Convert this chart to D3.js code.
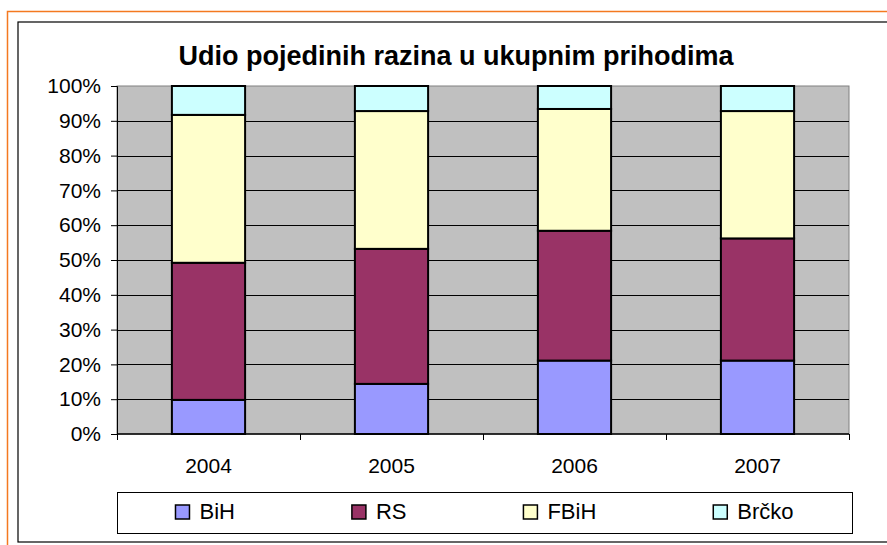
<!DOCTYPE html>
<html>
<head>
<meta charset="utf-8">
<script src="https://cdn.jsdelivr.net/npm/d3@7"></script>
<style>
  body { margin: 0; background: #fff; }
  svg { display: block; font-family: "Liberation Sans", Arial, sans-serif; }
</style>
</head>
<body>
<svg id="chart" width="887" height="545"></svg>
<script>
// Udio pojedinih razina u ukupnim prihodima (% share)
const years = ['2004', '2005', '2006', '2007'];
const seriesNames = ['BiH', 'RS', 'FBiH', 'Brčko'];
const bih   = [9.8, 14.4, 21.1, 21.1];
const rs    = [39.4, 38.8, 37.3, 35.1];
const fbih  = [42.5, 39.6, 35.0, 36.6];
const brcko = [8.3, 7.2, 6.6, 7.2];
const yTicks = [0, 0.1, 0.2, 0.3, 0.4, 0.5, 0.6, 0.7, 0.8, 0.9, 1];
const colors = ['#9999FF', '#993366', '#FFFFCC', '#CCFFFF'];

const svg = d3.select('#chart');
const plot = { left: 117, right: 849, top: 86, bottom: 434 };

// outer orange border and chart frame
svg.append('rect').attr('x', 7.5).attr('y', 11.5).attr('width', 900).attr('height', 560)
    .attr('fill', 'none').attr('stroke', '#F47920').attr('stroke-width', 1.5);
svg.append('rect').attr('x', 18).attr('y', 22).attr('width', 900).attr('height', 520)
    .attr('fill', '#fff').attr('stroke', '#000').attr('stroke-width', 1.2);

svg.append('text')
    .attr('x', 456).attr('y', 65)
    .attr('text-anchor', 'middle')
    .attr('font-weight', 'bold')
    .attr('font-size', 27)
    .text('Udio pojedinih razina u ukupnim prihodima');

const rows = years.map((year, i) => ({
    year, BiH: bih[i], RS: rs[i], FBiH: fbih[i], 'Brčko': brcko[i]
}));
const stacked = d3.stack().keys(seriesNames).offset(d3.stackOffsetExpand)(rows);

const x = d3.scaleBand().domain(years).range([plot.left, plot.right])
    .paddingInner(0.6).paddingOuter(0.3);
const y = d3.scaleLinear().domain([0, 1]).range([plot.bottom, plot.top]);

// plot area
svg.append('rect')
    .attr('x', plot.left).attr('y', plot.top)
    .attr('width', plot.right - plot.left).attr('height', plot.bottom - plot.top)
    .attr('fill', '#C0C0C0').attr('stroke', '#808080').attr('stroke-width', 1);

svg.append('g').selectAll('line')
    .data(yTicks.slice(1, -1))
    .join('line')
    .attr('x1', plot.left).attr('x2', plot.right)
    .attr('y1', d => Math.round(y(d)) + 0.5).attr('y2', d => Math.round(y(d)) + 0.5)
    .attr('stroke', '#000').attr('stroke-width', 1);

// bars
svg.append('g').selectAll('g')
    .data(stacked)
    .join('g')
    .attr('fill', (d, i) => colors[i])
    .selectAll('rect')
    .data(d => d)
    .join('rect')
    .attr('x', d => x(d.data.year))
    .attr('width', x.bandwidth())
    .attr('y', d => y(d[1]))
    .attr('height', d => y(d[0]) - y(d[1]))
    .attr('stroke', '#000').attr('stroke-width', 2);

// y axis
const yAxis = svg.append('g')
    .attr('transform', `translate(${plot.left},0)`)
    .call(d3.axisLeft(y).tickValues(yTicks).tickFormat(d3.format('.0%')).tickSize(6).tickPadding(10));
yAxis.attr('font-family', null).attr('font-size', null);
yAxis.select('.domain').attr('stroke', '#000');
yAxis.selectAll('text').attr('font-size', 21).attr('fill', '#000');

// x axis: ticks at category boundaries
const step = x.step();
const boundaries = d3.range(years.length + 1).map(i => plot.left + i * step);
svg.append('line')
    .attr('x1', plot.left).attr('x2', plot.right)
    .attr('y1', plot.bottom).attr('y2', plot.bottom)
    .attr('stroke', '#000').attr('stroke-width', 1.5);
svg.append('g').selectAll('line')
    .data(boundaries)
    .join('line')
    .attr('x1', d => Math.round(d) + 0.5).attr('x2', d => Math.round(d) + 0.5)
    .attr('y1', plot.bottom).attr('y2', plot.bottom + 6)
    .attr('stroke', '#000');
svg.append('g').selectAll('text')
    .data(years)
    .join('text')
    .attr('x', d => x(d) + x.bandwidth() / 2)
    .attr('y', 473)
    .attr('text-anchor', 'middle')
    .attr('font-size', 21)
    .text(d => d);

// legend
const legendBox = { x: 117, y: 492, w: 735, h: 41 };
svg.append('rect')
    .attr('x', legendBox.x + 0.5).attr('y', legendBox.y + 0.5)
    .attr('width', legendBox.w).attr('height', legendBox.h)
    .attr('fill', '#fff').attr('stroke', '#000');

const items = svg.append('g').selectAll('g')
    .data(seriesNames)
    .join('g');
items.append('rect')
    .attr('width', 14).attr('height', 14)
    .attr('y', 505)
    .attr('fill', (d, i) => colors[i])
    .attr('stroke', '#000').attr('stroke-width', 1.5);
items.append('text')
    .attr('x', 24).attr('y', 519)
    .attr('font-size', 22)
    .text(d => d);

const widths = [];
items.each(function () {
    widths.push(24 + d3.select(this).select('text').node().getComputedTextLength());
});
const gap = (legendBox.w - d3.sum(widths)) / widths.length;
let cursor = legendBox.x + gap / 2;
items.each(function (d, i) {
    d3.select(this).attr('transform', `translate(${cursor},0)`);
    d3.select(this).select('rect').attr('x', 0);
    cursor += widths[i] + gap;
});
</script>
</body>
</html>
